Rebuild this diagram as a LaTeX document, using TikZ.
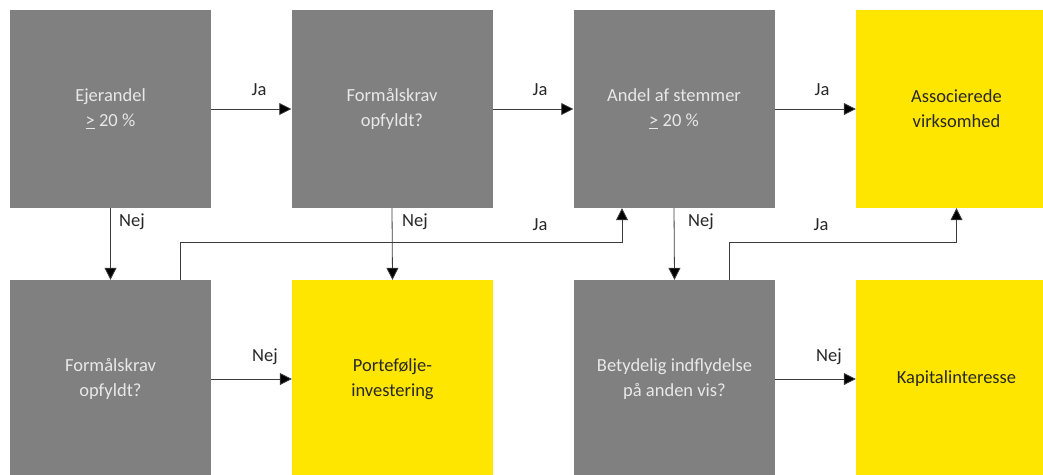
\documentclass[tikz,border=0pt]{standalone}
\usepackage{fontspec}
\setmainfont{Carlito}
\usetikzlibrary{arrows.meta}
\definecolor{boxgray}{RGB}{128,128,128}
\definecolor{eyyellow}{RGB}{255,230,0}
\definecolor{txtlight}{RGB}{232,232,232}
\definecolor{lbl}{RGB}{40,40,40}
\definecolor{linecol}{RGB}{60,60,60}
\begin{document}
\begin{tikzpicture}[x=1pt,y=-1pt,
  box/.style={rectangle,minimum width=201pt,minimum height=198pt,inner sep=0pt,align=center,font=\fontsize{18.5}{25}\selectfont},
  gbox/.style={box,fill=boxgray,text=txtlight},
  ybox/.style={box,fill=eyyellow,text=lbl},
  conn/.style={draw=linecol,line width=0.8pt,-{Triangle[length=12pt,width=12pt,fill=black]}},
  lab/.style={font=\fontsize{18.5}{22}\selectfont,text=lbl,inner sep=0pt}]
\useasboundingbox (0,0) rectangle (1043,474);
\clip (0,0) rectangle (1043,474);
\node[gbox] (b1) at (110.5,109) {Ejerandel\\\underline{>} 20 \%};
\node[gbox] (b2) at (392,109) {Formålskrav\\opfyldt?};
\node[gbox] (b3) at (674,109) {Andel af stemmer\\\underline{>} 20 \%};
\node[ybox] (b4) at (956.5,109) {Associerede\\virksomhed};
\node[gbox] (c1) at (110.5,379) {Formålskrav\\opfyldt?};
\node[ybox] (c2) at (392.5,379) {Portefølje-\\investering};
\node[gbox] (c3) at (674.5,379) {Betydelig indflydelse\\på anden vis?};
\node[ybox] (c4) at (956.5,379) {Kapitalinteresse};
% horizontal arrows
\draw[conn] (b1.east) -- (b2.west);
\draw[conn] (b2.east) -- (b3.west);
\draw[conn] (b3.east) -- (b4.west);
\draw[conn] (c1.east) -- (c2.west);
\draw[conn] (c3.east) -- (c4.west);
% vertical arrows
\draw[conn] (b1.south) -- (c1.north);
\draw[conn] (b2.south) -- (c2.north);
\draw[conn] (b3.south) -- (c3.north);
% feedback Ja arrows
\draw[conn] ([xshift=69.5pt]c1.north) -- ++(0,-37) -| ([xshift=-52pt]b3.south);
\draw[conn] ([xshift=54.5pt]c3.north) -- ++(0,-37) -| (b4.south);
% labels
\node[lab] (l1) at (259,90) {Ja};
\node[lab] (l2) at (540,90) {Ja};
\node[lab] (l3) at (822,90) {Ja};
\node[lab] (l4) at (132,222) {Nej};
\node[lab] (l5) at (415,222) {Nej};
\node[lab] (l6) at (540,225) {Ja};
\node[lab] (l7) at (701,222) {Nej};
\node[lab] (l8) at (821,225) {Ja};
\node[lab] (l9) at (265,357) {Nej};
\node[lab] (l10) at (829,357) {Nej};
\end{tikzpicture}
\end{document}
